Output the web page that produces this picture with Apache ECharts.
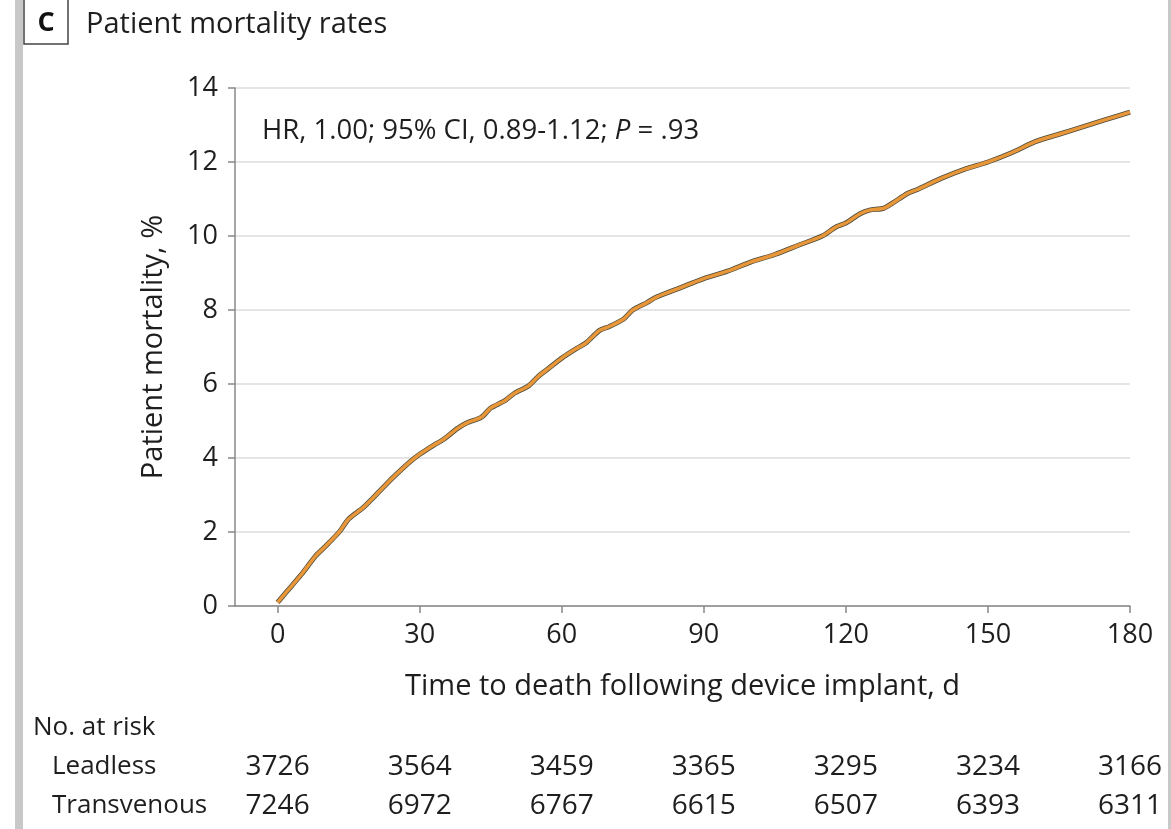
<!DOCTYPE html>
<html><head><meta charset="utf-8">
<script src="https://cdn.jsdelivr.net/npm/echarts@6/dist/echarts.min.js"></script>
<style>html,body{margin:0;padding:0;background:#fff}#c{width:1171px;height:829px}</style>
</head><body><div id="c"></div>
<script>
// Data
const days = [0,2,5,8,10,13,15,18,20,23,25,28,30,33,35,38,40,43,45,48,50,53,55,57,60,63,65,68,70,73,75,78,80,85,90,95,100,105,110,115,118,120,123,125,128,130,133,135,140,145,150,155,160,165,170,175,180];
const leadless = [0.1,0.4,0.85,1.35,1.6,2.0,2.35,2.65,2.9,3.3,3.55,3.9,4.1,4.35,4.5,4.8,4.95,5.1,5.35,5.55,5.75,5.95,6.2,6.4,6.7,6.95,7.1,7.45,7.55,7.75,8.0,8.2,8.35,8.6,8.85,9.05,9.3,9.5,9.75,10.0,10.25,10.35,10.6,10.7,10.75,10.9,11.15,11.25,11.55,11.8,12.0,12.25,12.55,12.75,12.95,13.15,13.35];
const transvenous = [0.1,0.4,0.85,1.35,1.6,2.0,2.35,2.65,2.9,3.3,3.55,3.9,4.1,4.35,4.5,4.8,4.95,5.1,5.35,5.55,5.75,5.95,6.2,6.4,6.7,6.95,7.1,7.45,7.55,7.75,8.0,8.2,8.35,8.6,8.85,9.05,9.3,9.5,9.75,10.0,10.25,10.35,10.6,10.7,10.75,10.9,11.15,11.25,11.55,11.8,12.0,12.25,12.55,12.75,12.95,13.15,13.35];
const xTicks = [0,30,60,90,120,150,180];
const yTicks = [0,2,4,6,8,10,12,14];
const riskLeadless = [3726,3564,3459,3365,3295,3234,3166];
const riskTransvenous = [7246,6972,6767,6615,6507,6393,6311];
const titleText = 'Patient mortality rates';
const panelLetter = 'C';

const FONT = '"Open Sans", "Noto Sans", sans-serif';
const TXT = '#1e1e1e';
const chart = echarts.init(document.getElementById('c'));
const pair = arr => days.map((d,i)=>[d,arr[i]]);

const option = {
  animation:false,
  backgroundColor:'#fff',
  grid:{left:235,right:41,top:88,bottom:223,containLabel:false},
  xAxis:{type:'value',min:-9,max:180,
    name:'Time to death following device implant, d',nameLocation:'middle',nameGap:66,
    nameTextStyle:{fontFamily:FONT,fontSize:29,color:TXT},
    axisLine:{show:true,onZero:false,lineStyle:{color:'#888',width:1.5}},
    axisTick:{show:true,customValues:xTicks,length:7,lineStyle:{color:'#888',width:1.5}},
    axisLabel:{customValues:xTicks,fontFamily:FONT,fontSize:27,color:TXT,margin:16},
    splitLine:{show:false}},
  yAxis:{type:'value',min:0,max:14,interval:2,
    name:'Patient mortality, %',nameLocation:'middle',nameGap:67,
    nameTextStyle:{fontFamily:FONT,fontSize:29,color:TXT},
    axisLine:{show:true,onZero:false,lineStyle:{color:'#888',width:1.5}},
    axisTick:{show:true,length:7,lineStyle:{color:'#888',width:1.5}},
    axisLabel:{fontFamily:FONT,fontSize:27,color:TXT,margin:17},
    splitLine:{show:true,lineStyle:{color:'#ddd',width:1.5}}},
  series:[
    {name:'Transvenous',type:'line',data:pair(transvenous),showSymbol:false,smooth:0.25,
      lineStyle:{color:'#4a4a3a',width:5},z:2},
    {name:'Leadless',type:'line',data:pair(leadless),showSymbol:false,smooth:0.25,
      lineStyle:{color:'#e8963a',width:3.5},z:3}
  ],
  graphic:[]
};
chart.setOption(option);

const g = [
  {type:'rect',shape:{x:15,y:0,width:8,height:829},style:{fill:'#c8c8c8'}},
  {type:'rect',shape:{x:1168,y:0,width:3,height:829},style:{fill:'#c8c8c8'}},
  {type:'rect',shape:{x:24,y:-2,width:44,height:46},style:{fill:'#fff',stroke:'#444',lineWidth:1.5}},
  {type:'text',x:46,y:23,style:{text:panelLetter,font:'bold 27px '+FONT,fill:'#111',textAlign:'center',textVerticalAlign:'middle'}},
  {type:'text',x:86,y:25,style:{text:titleText,font:'29px '+FONT,fill:TXT,textAlign:'left',textVerticalAlign:'middle'}},
  {type:'text',x:262,y:131,style:{rich:{n:{fontFamily:FONT,fontSize:27.5,fill:TXT},i:{fontFamily:FONT,fontSize:27.5,fontStyle:'italic',fill:TXT}},
     text:'{n|HR, 1.00; 95% CI, 0.89-1.12; }{i|P}{n| = .93}',textVerticalAlign:'middle'}},
  {type:'text',x:33,y:728,style:{text:'No. at risk',font:'26px '+FONT,fill:TXT,textVerticalAlign:'middle'}},
  {type:'text',x:52,y:767,style:{text:'Leadless',font:'26px '+FONT,fill:TXT,textVerticalAlign:'middle'}},
  {type:'text',x:52,y:806,style:{text:'Transvenous',font:'26px '+FONT,fill:TXT,textVerticalAlign:'middle'}}
];
xTicks.forEach((d,i)=>{
  const px = chart.convertToPixel({xAxisIndex:0}, d);
  g.push({type:'text',x:px,y:767,style:{text:String(riskLeadless[i]),font:'28px '+FONT,fill:TXT,textAlign:'center',textVerticalAlign:'middle'}});
  g.push({type:'text',x:px,y:806,style:{text:String(riskTransvenous[i]),font:'28px '+FONT,fill:TXT,textAlign:'center',textVerticalAlign:'middle'}});
});
chart.setOption({graphic:g});
</script></body></html>
